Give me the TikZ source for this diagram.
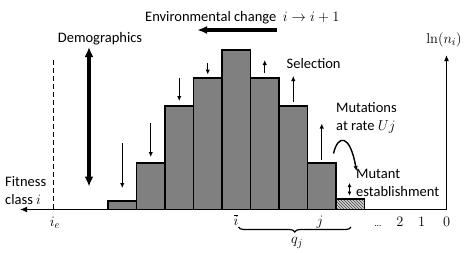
\documentclass[tikz,border=0pt]{standalone}
\usepackage[no-math]{fontspec}
\setmainfont{Carlito}
\usetikzlibrary{arrows.meta,patterns,decorations.pathreplacing}
\begin{document}
\begin{tikzpicture}[x=1pt,y=-1pt,
  lbl/.style={font=\fontsize{14.5}{18}\selectfont, inner sep=0pt},
  mlbl/.style={font=\fontsize{15.5}{18}\selectfont, inner sep=0pt},
  barbox/.style={draw=black, line width=1.6pt, fill=gray},
  thinarrow/.style={line width=1.2pt, -{Latex[length=5pt,width=4.5pt]}},
  bigarrow/.style={line width=3.2pt, -{Latex[length=10pt,width=9pt]}},
  axisline/.style={line width=1.5pt},
]
\useasboundingbox (0,0) rectangle (468,252);
% bars
\foreach \k/\t in {0/200.7,1/162.7,2/105.7,3/78,4/50,5/78,6/105.7,7/162.7}
  \draw[barbox] ({108+28.5*\k},209.5) rectangle ({108+28.5*(\k+1)},\t);
\draw[draw=black, line width=1.6pt, fill=gray!35] (336,209.5) rectangle (364.5,199);
\fill[pattern=north west lines, pattern color=black!75] (337,208.5) rectangle (363.5,200);
% axes
\coordinate (axl) at (20,209.5);
\coordinate (axc) at (446.5,209.5);
\coordinate (axt) at (446.5,55);
\draw[axisline, -{Latex[length=7pt,width=6pt]}] (axc) -- (axl);
\draw[axisline, -{Latex[length=6pt,width=5pt]}] (axc) -- (axt);
% dashed line
\coordinate (dt) at (53.5,60);
\coordinate (db) at (53.5,209.5);
\draw[line width=1.5pt, dash pattern=on 5pt off 3pt] (dt) -- (db);
% small arrows
\foreach \n/\x/\a/\b in {a1/122.25/143/188, a2/150.75/123/157, a3/179.25/78/101, a4/207.75/63/74.5,
                         a6/264.75/73/60, a7/293.25/101.5/76, a8/321.75/160/123.5} {
  \coordinate (\n s) at (\x,\a);
  \coordinate (\n e) at (\x,\b);
  \draw[thinarrow] (\n s) -- (\n e);
}
% demographics arrow
\coordinate (dmt) at (89,47);
\coordinate (dmb) at (89,186.5);
\draw[line width=3.2pt, {Latex[length=10pt,width=9pt]}-{Latex[length=10pt,width=9pt]}] (dmt) -- (dmb);
% environmental change arrow
\coordinate (ecr) at (277,30);
\coordinate (ecl) at (197,30);
\draw[bigarrow, -{Latex[length=10pt,width=8pt]}] (ecr) -- (ecl);
% mutation curved arrow
\coordinate (ms) at (333.5,153.5);
\coordinate (me) at (356.5,171);
\draw[line width=1.4pt, -{Latex[length=5pt,width=4.5pt]}] (ms) .. controls (338,134) and (350,134) .. (me);
% establishment double arrow
\coordinate (et) at (349.5,183);
\coordinate (eb) at (349.5,195.5);
\draw[line width=1.2pt, {Latex[length=4pt,width=4pt]}-{Latex[length=4pt,width=4pt]}] (et) -- (eb);
% labels
\node[lbl, anchor=west] (env) at (145,18) {Environmental change\ \ {\fontsize{15.5}{18}\selectfont$i \rightarrow i+1$}};
\node[lbl] (demo) at (100,38.5) {Demographics};
\node[lbl, anchor=west] (sel) at (286.5,64) {Selection};
\node[lbl, anchor=west, align=left] (mut) at (336,118) {Mutations\\at rate {\fontsize{15.5}{18}\selectfont$Uj$}};
\node[lbl, anchor=west, align=left] (est) at (356,183) {Mutant\\establishment};
\node[lbl, anchor=west, align=left] (fit) at (5,190.5) {Fitness\\class {\fontsize{15.5}{18}\selectfont$i$}};
\node[mlbl] (lnn) at (444,40) {$\ln(n_i)$};
\node[mlbl] (ie) at (55,223) {$i_e$};
\node[mlbl] (ibar) at (236,220) {$\overline{i}$};
\node[mlbl] (jl) at (320,222) {$j$};
\node[font=\fontsize{9}{10}\selectfont, inner sep=0pt] (dots) at (378,226) {\dots};
\node[mlbl] (n2) at (400,222) {$2$};
\node[mlbl] (n1) at (421.7,222) {$1$};
\node[mlbl] (n0) at (446.7,222) {$0$};
% brace
\coordinate (bl) at (238.5,227);
\coordinate (br) at (351,227);
\draw[line width=1.2pt, decorate, decoration={brace, mirror, amplitude=5pt}] (bl) -- (br);
\node[mlbl] (qj) at (297,243) {$q_j$};
\end{tikzpicture}
\end{document}
